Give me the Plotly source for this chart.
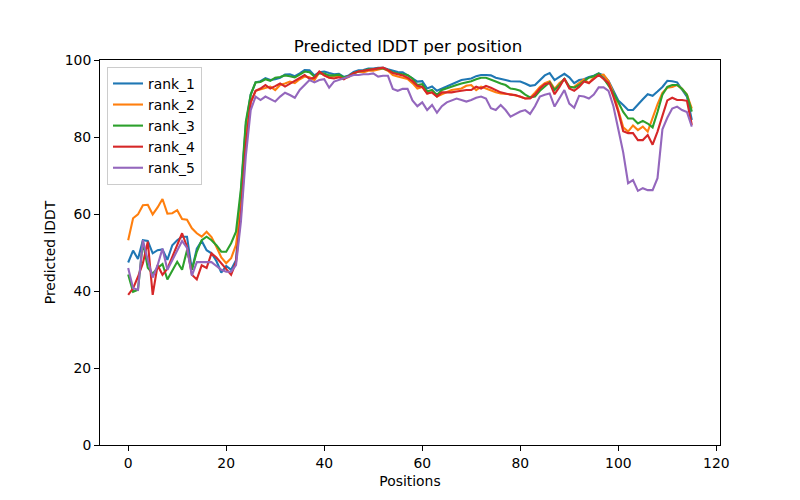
import plotly.graph_objects as go

positions = list(range(116))

rank_1 = [47.4, 50.5, 48.3, 53.2, 53.0, 49.8, 50.6, 50.8, 48.1, 51.9,
          53.2, 54.1, 54.1, 45.5, 51.0, 53.0, 50.6, 49.8, 47.8, 44.8,
          46.5, 45.5, 48.0, 65.0, 83.0, 91.0, 94.2, 94.5, 95.3, 94.8,
          95.0, 95.4, 96.2, 96.3, 95.8, 96.5, 97.4, 97.3, 96.0, 96.8,
          97.0, 96.6, 96.3, 96.4, 95.6, 96.0, 96.9, 97.3, 97.4, 97.8,
          97.8, 98.0, 98.0, 97.6, 97.2, 96.9, 96.8, 96.1, 95.2, 94.4,
          94.5, 92.6, 93.1, 92.0, 92.6, 93.2, 93.6, 94.3, 94.8, 95.0,
          95.2, 95.8, 96.1, 96.1, 96.0, 95.4, 95.0, 94.8, 94.5, 94.5,
          94.4, 93.9, 93.3, 93.5, 94.8, 96.0, 96.6, 94.8, 95.6, 96.4,
          95.5, 94.0, 94.8, 95.0, 95.6, 95.9, 96.5, 96.0, 94.6, 92.2,
          89.5, 88.3, 87.0, 87.0, 88.5, 89.8, 91.1, 90.7, 91.8, 93.0,
          94.6, 94.5, 94.2, 92.5, 90.5, 84.4]

rank_2 = [53.2, 58.9, 59.9, 62.3, 62.4, 59.9, 61.7, 63.9, 60.1, 60.2,
          61.0, 58.7, 58.5, 56.3, 55.0, 54.1, 55.4, 54.0, 51.5, 48.7,
          47.2, 48.5, 52.0, 62.0, 80.0, 89.0, 92.0, 92.4, 92.6, 93.1,
          92.2, 93.5, 93.9, 94.4, 94.0, 95.0, 95.7, 95.5, 94.8, 96.8,
          96.0, 95.5, 95.7, 95.8, 95.2, 95.6, 96.5, 97.0, 96.8, 97.2,
          97.2, 97.5, 97.8, 97.2, 96.1, 95.7, 95.4, 95.1, 94.0, 92.6,
          93.0, 91.3, 91.6, 90.5, 91.1, 91.6, 92.2, 92.4, 92.6, 93.3,
          93.5, 92.2, 93.1, 92.6, 92.0, 91.6, 91.3, 91.2, 91.1, 90.8,
          90.5, 90.0, 90.2, 91.5, 93.0, 94.0, 94.5, 92.5, 94.0, 95.0,
          93.0, 93.0, 94.0, 95.0, 94.0, 95.5, 96.0, 96.2, 94.5, 91.5,
          87.0, 82.5, 81.4, 83.0, 81.8, 82.7, 81.4, 85.0, 88.5, 91.5,
          92.8, 93.0, 93.5, 92.5, 91.0, 87.4]

rank_3 = [44.3, 39.8, 40.3, 52.8, 46.0, 44.5, 46.0, 47.0, 43.0, 45.5,
          47.6, 45.5, 50.6, 45.5, 50.2, 53.2, 54.1, 53.2, 51.9, 50.2,
          50.2, 52.4, 55.4, 66.5, 84.0, 91.0, 94.2, 94.3, 95.0, 94.6,
          95.4, 95.6, 96.0, 95.8, 95.5, 96.2, 97.0, 96.8, 95.7, 96.6,
          96.5, 96.0, 96.0, 96.2, 95.5, 95.8, 96.6, 97.0, 97.2, 97.6,
          97.6, 97.8, 97.8, 97.4, 96.8, 96.5, 96.3, 96.1, 95.2, 93.5,
          93.7, 91.8, 92.2, 90.9, 92.2, 92.7, 93.1, 93.5, 93.9, 94.2,
          94.5, 95.0, 95.4, 95.4, 95.0, 94.4, 93.9, 93.5, 92.6, 92.4,
          92.0, 91.0, 90.3, 90.5, 92.0, 93.1, 94.2, 92.2, 93.5, 95.1,
          93.1, 92.8, 93.5, 94.5, 95.4, 95.8, 96.5, 95.2, 93.5, 91.5,
          89.0, 86.5, 84.8, 84.8, 83.5, 84.2, 83.5, 82.5, 86.5, 91.0,
          93.0, 93.5, 93.5, 92.5, 91.0, 86.6]

rank_4 = [39.0, 40.7, 43.7, 47.2, 52.8, 39.0, 46.7, 44.2, 45.8, 48.9,
          51.9, 55.0, 51.5, 44.2, 43.0, 46.7, 46.0, 49.8, 48.7, 47.2,
          45.5, 44.2, 47.5, 60.0, 78.0, 89.0, 92.0, 92.6, 93.5, 92.6,
          93.2, 93.9, 93.1, 93.8, 94.5, 95.2, 96.1, 95.1, 95.4, 97.0,
          96.0, 95.4, 95.2, 95.5, 95.0, 95.8, 96.6, 97.0, 97.2, 97.4,
          97.5, 97.8, 98.0, 97.4, 96.6, 96.3, 96.0, 95.4, 94.5, 93.3,
          93.0, 91.3, 91.6, 90.5, 91.6, 91.6, 91.6, 91.8, 92.0, 92.2,
          92.2, 93.1, 92.6, 93.3, 92.8, 92.2, 91.6, 91.3, 91.0, 90.9,
          90.5, 90.0, 90.0, 91.0, 92.6, 93.7, 94.0, 91.1, 93.0, 95.2,
          92.6, 92.0, 93.0, 94.4, 94.0, 95.1, 96.1, 95.1, 94.0, 90.5,
          86.5, 81.5, 81.0, 81.0, 79.2, 79.2, 80.5, 78.0, 81.4, 85.5,
          89.5, 90.2, 89.6, 89.6, 89.4, 83.1]

rank_5 = [46.0, 40.7, 40.3, 53.2, 48.0, 43.5, 46.7, 51.0, 45.5, 48.0,
          50.6, 53.0, 51.2, 44.0, 47.5, 47.5, 47.5, 47.5, 46.5, 45.5,
          45.0, 45.0, 46.7, 58.0, 75.0, 87.0, 90.5, 89.6, 90.5, 89.8,
          89.2, 90.5, 91.5, 90.9, 90.2, 92.2, 93.5, 94.8, 94.2, 94.8,
          95.0, 92.8, 94.4, 94.8, 95.3, 95.5, 96.1, 96.1, 96.3, 96.3,
          96.5, 95.7, 95.9, 95.9, 92.5, 92.0, 92.5, 92.5, 89.5, 88.0,
          89.0, 87.0, 88.3, 86.3, 88.0, 89.0, 89.6, 90.0, 89.6, 89.2,
          89.6, 90.2, 90.5, 90.0, 87.5, 87.0, 88.3, 87.0, 85.3, 86.0,
          86.6, 87.0, 86.0, 88.0, 90.5, 91.0, 91.3, 87.9, 90.0, 92.2,
          88.7, 87.6, 90.7, 90.5, 90.0, 91.0, 92.9, 92.9, 92.0, 88.0,
          82.0, 76.0, 68.0, 68.8, 66.0, 66.7, 66.2, 66.2, 69.3, 82.0,
          85.0, 87.4, 87.9, 87.0, 86.5, 82.7]

series_names = ["rank_1", "rank_2", "rank_3", "rank_4", "rank_5"]
series_values = [rank_1, rank_2, rank_3, rank_4, rank_5]
colors = ["#1f77b4", "#ff7f0e", "#2ca02c", "#d62728", "#9467bd"]

x_ticks = [0, 20, 40, 60, 80, 100, 120]
y_ticks = [0, 20, 40, 60, 80, 100]

fig = go.Figure()
for name, vals, c in zip(series_names, series_values, colors):
    fig.add_trace(go.Scatter(x=positions, y=vals, mode="lines", name=name,
                             line=dict(color=c, width=2.1)))

font = "DejaVu Sans"
fig.update_layout(
    width=800, height=500,
    margin=dict(l=92, r=88, t=52, b=63),
    paper_bgcolor="white", plot_bgcolor="white",
    font=dict(family=font, size=14, color="black"),
    title=dict(text="Predicted lDDT per position", x=0.5, xanchor="center",
               y=1 - 38 / 500, yanchor="middle",
               font=dict(family=font, size=16.7, color="black")),
    showlegend=True,
    legend=dict(x=0.0113, y=0.982, xanchor="left", yanchor="top",
                bgcolor="rgba(255,255,255,0.8)", bordercolor="#cccccc",
                borderwidth=1, font=dict(family=font, size=13.9),
                tracegroupgap=0, itemwidth=30),
    xaxis=dict(range=[-5.75, 120.75], tickvals=x_ticks, ticks="outside",
               ticklen=5, tickcolor="black", showline=True, linecolor="black",
               linewidth=1, mirror=True, showgrid=False, zeroline=False,
               title=dict(text="Positions", standoff=6,
                          font=dict(family=font, size=13.9)),
               tickfont=dict(family=font, size=13.9)),
    yaxis=dict(range=[0, 100], tickvals=y_ticks, ticks="outside",
               ticklen=5, tickcolor="black", showline=True, linecolor="black",
               linewidth=1, mirror=True, showgrid=False, zeroline=False,
               title=dict(text="Predicted lDDT", standoff=5,
                          font=dict(family=font, size=13.9)),
               tickfont=dict(family=font, size=13.9)),
)

fig.write_html("out.html")
